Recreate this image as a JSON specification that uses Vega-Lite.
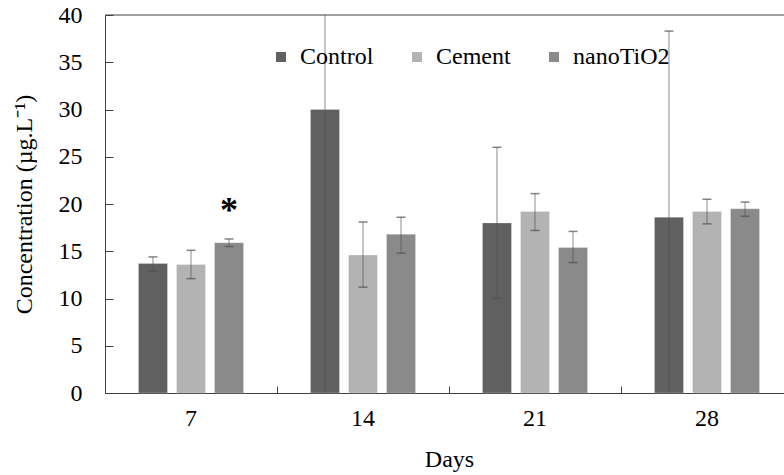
{
  "$schema": "https://vega.github.io/schema/vega-lite/v6.json",
  "autosize": {"type": "none"},
  "padding": {"left": 105, "top": 15, "right": 0, "bottom": 82},
  "width": 679,
  "height": 378,
  "background": "white",
  "view": {"stroke": null},
  "config": {
    "font": "Liberation Serif",
    "axis": {"labelFont": "Liberation Serif", "titleFont": "Liberation Serif", "labelColor": "black", "titleColor": "black", "domainColor": "#404040", "tickColor": "#404040", "grid": false, "titleFontWeight": "normal"},
    "legend": {"labelFont": "Liberation Serif", "titleFont": "Liberation Serif", "labelFontWeight": "normal"},
    "text": {"font": "Liberation Serif"}
  },
  "datasets": {
    "bars": [
      {"Days": "7", "Group": "Control", "value": 13.7, "lo": 12.9, "hi": 14.4},
      {"Days": "7", "Group": "Cement", "value": 13.6, "lo": 12.1, "hi": 15.1},
      {"Days": "7", "Group": "nanoTiO2", "value": 15.9, "lo": 15.5, "hi": 16.3},
      {"Days": "14", "Group": "Control", "value": 30.0, "lo": 0, "hi": 60},
      {"Days": "14", "Group": "Cement", "value": 14.6, "lo": 11.2, "hi": 18.1},
      {"Days": "14", "Group": "nanoTiO2", "value": 16.8, "lo": 14.8, "hi": 18.6},
      {"Days": "21", "Group": "Control", "value": 18.0, "lo": 10.0, "hi": 26.0},
      {"Days": "21", "Group": "Cement", "value": 19.2, "lo": 17.2, "hi": 21.1},
      {"Days": "21", "Group": "nanoTiO2", "value": 15.4, "lo": 13.8, "hi": 17.1},
      {"Days": "28", "Group": "Control", "value": 18.6, "lo": 0, "hi": 38.3},
      {"Days": "28", "Group": "Cement", "value": 19.2, "lo": 17.9, "hi": 20.5},
      {"Days": "28", "Group": "nanoTiO2", "value": 19.5, "lo": 18.7, "hi": 20.2}
    ],
    "marks": [
      {"Days": "7", "Group": "nanoTiO2", "label": "*", "pos": 18.1}
    ]
  },
  "layer": [
    {
      "data": {"name": "bars"},
      "mark": {"type": "bar", "stroke": "#ffffff", "strokeOpacity": 0.25, "strokeWidth": 1},
      "encoding": {
        "x": {
          "field": "Days", "type": "nominal", "sort": ["7", "14", "21", "28"],
          "scale": {"range": [0, 688], "paddingInner": 0, "paddingOuter": 0},
          "axis": {"title": "Days", "labelAngle": 0, "labelFontSize": 24, "titleFontSize": 24, "tickSize": -7, "bandPosition": 0, "labelPadding": 20, "titlePadding": 17}
        },
        "xOffset": {
          "field": "Group", "type": "nominal", "sort": ["Control", "Cement", "nanoTiO2"],
          "scale": {"paddingInner": 0.237, "paddingOuter": 0.88}
        },
        "y": {
          "field": "value", "type": "quantitative",
          "scale": {"domain": [0, 40], "nice": false},
          "axis": {"title": "Concentration (µg.L⁻¹)", "values": [0, 5, 10, 15, 20, 25, 30, 35, 40], "labelFontSize": 24, "titleFontSize": 24, "tickSize": -8, "labelPadding": 31, "titlePadding": 22}
        },
        "color": {
          "field": "Group", "type": "nominal",
          "scale": {"domain": ["Control", "Cement", "nanoTiO2"], "range": ["#606060", "#b3b3b3", "#8a8a8a"]},
          "legend": {
            "title": null, "orient": "none", "legendX": 164, "legendY": 30, "direction": "horizontal", "columns": 3, "gridAlign": "none", "columnPadding": 31, "padding": 0,
            "symbolType": "square", "symbolSize": 100, "symbolStrokeWidth": 0,
            "labelFont": "Liberation Serif", "labelFontSize": 24, "labelColor": "black", "labelOffset": 7,
            "labelLimit": 0
          }
        }
      }
    },
    {
      "data": {"name": "bars"},
      "mark": {"type": "rule", "color": "#505050", "opacity": 0.55, "strokeWidth": 1.2, "clip": true},
      "encoding": {
        "x": {"field": "Days", "type": "nominal", "sort": ["7", "14", "21", "28"]},
        "xOffset": {"field": "Group", "type": "nominal", "sort": ["Control", "Cement", "nanoTiO2"]},
        "y": {"field": "lo", "type": "quantitative"},
        "y2": {"field": "hi"}
      }
    },
    {
      "data": {"name": "bars"},
      "mark": {"type": "tick", "color": "#505050", "opacity": 0.7, "thickness": 1.5, "size": 9, "clip": true},
      "encoding": {
        "x": {"field": "Days", "type": "nominal", "sort": ["7", "14", "21", "28"]},
        "xOffset": {"field": "Group", "type": "nominal", "sort": ["Control", "Cement", "nanoTiO2"]},
        "y": {"field": "hi", "type": "quantitative"}
      }
    },
    {
      "data": {"name": "bars"},
      "transform": [{"filter": "datum.lo > 0"}],
      "mark": {"type": "tick", "color": "#505050", "opacity": 0.7, "thickness": 1.5, "size": 9, "clip": true},
      "encoding": {
        "x": {"field": "Days", "type": "nominal", "sort": ["7", "14", "21", "28"]},
        "xOffset": {"field": "Group", "type": "nominal", "sort": ["Control", "Cement", "nanoTiO2"]},
        "y": {"field": "lo", "type": "quantitative"}
      }
    },
    {
      "data": {"name": "marks"},
      "mark": {"type": "text", "font": "Liberation Serif", "fontSize": 36, "fontWeight": "bold", "color": "black", "baseline": "alphabetic"},
      "encoding": {
        "x": {"field": "Days", "type": "nominal", "sort": ["7", "14", "21", "28"]},
        "xOffset": {"field": "Group", "type": "nominal", "sort": ["Control", "Cement", "nanoTiO2"]},
        "y": {"field": "pos", "type": "quantitative"},
        "text": {"field": "label"}
      }
    },
    {
      "data": {"values": [{}]},
      "mark": {"type": "rule", "color": "#404040", "strokeWidth": 1},
      "encoding": {
        "y": {"datum": 40}
      }
    }
  ]
}
